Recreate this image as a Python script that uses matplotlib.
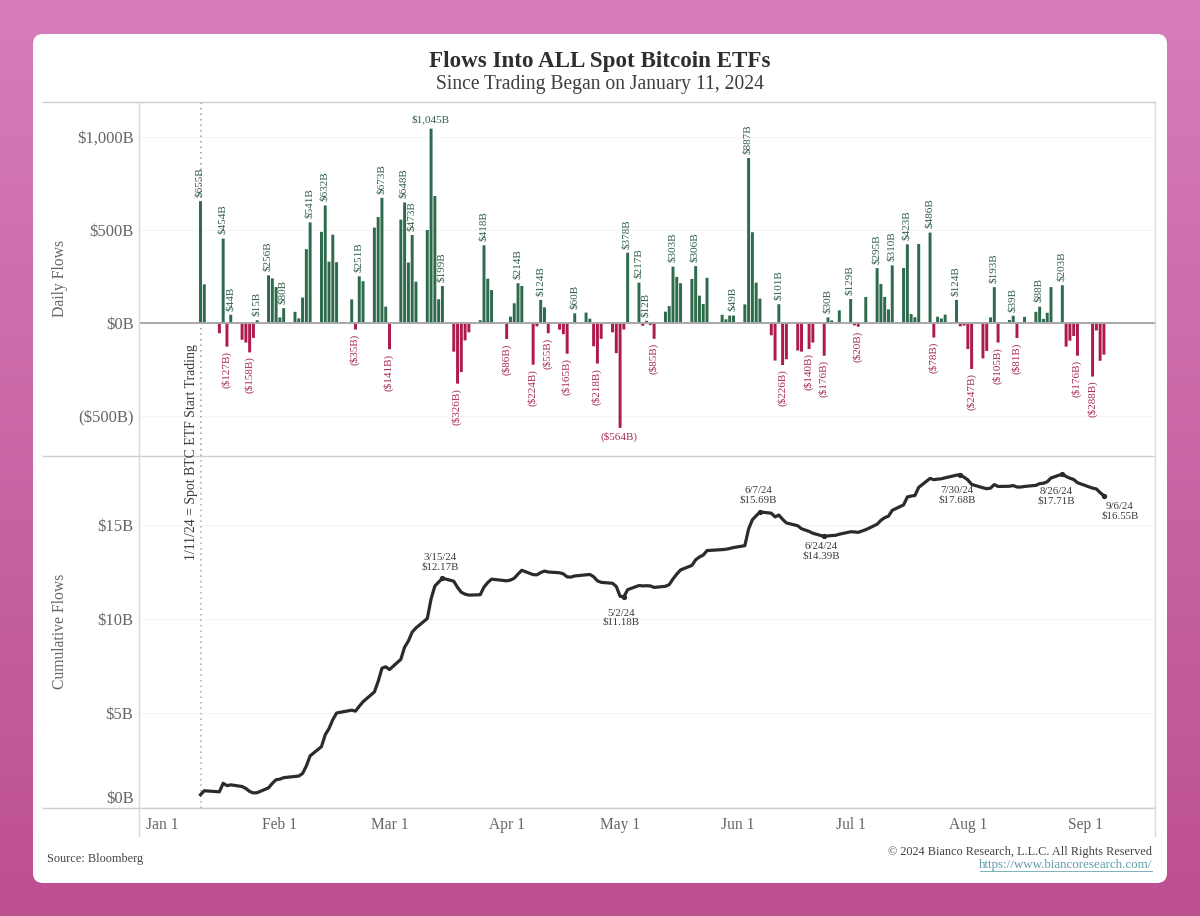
import numpy as np
import matplotlib
matplotlib.use("Agg")
import matplotlib.pyplot as plt
import matplotlib.dates as mdates
from matplotlib.patches import FancyBboxPatch
from datetime import datetime

plt.rcParams['font.family'] = ['Liberation Serif', 'DejaVu Serif']

trade_dates = (
    "01-11 01-12 01-16 01-17 01-18 01-19 01-22 01-23 01-24 01-25 01-26 01-29 01-30 01-31 "
    "02-01 02-02 02-05 02-06 02-07 02-08 02-09 02-12 02-13 02-14 02-15 02-16 02-20 02-21 02-22 02-23 "
    "02-26 02-27 02-28 02-29 03-01 03-04 03-05 03-06 03-07 03-08 03-11 03-12 03-13 03-14 03-15 "
    "03-18 03-19 03-20 03-21 03-22 03-25 03-26 03-27 03-28 "
    "04-01 04-02 04-03 04-04 04-05 04-08 04-09 04-10 04-11 04-12 04-15 04-16 04-17 04-18 04-19 "
    "04-22 04-23 04-24 04-25 04-26 04-29 04-30 05-01 05-02 05-03 05-06 05-07 05-08 05-09 05-10 "
    "05-13 05-14 05-15 05-16 05-17 05-20 05-21 05-22 05-23 05-24 05-28 05-29 05-30 05-31 "
    "06-03 06-04 06-05 06-06 06-07 06-10 06-11 06-12 06-13 06-14 06-17 06-18 06-20 06-21 "
    "06-24 06-25 06-26 06-27 06-28 07-01 07-02 07-03 07-05 07-08 07-09 07-10 07-11 07-12 "
    "07-15 07-16 07-17 07-18 07-19 07-22 07-23 07-24 07-25 07-26 07-29 07-30 07-31 "
    "08-01 08-02 08-05 08-06 08-07 08-08 08-09 08-12 08-13 08-14 08-15 08-16 "
    "08-19 08-20 08-21 08-22 08-23 08-26 08-27 08-28 08-29 08-30 09-03 09-04 09-05 09-06"
).split()

daily_flows = [
    655, 208, -55, 454, -127, 44, -90, -105, -158, -80, 15, 256, 240, 193,
    30, 80, 60, 25, 137, 397, 541, 490, 632, 330, 475, 327, 127, -35, 251, 225,
    513, 570, 673, 88, -141, 556, 648, 325, 473, 222, 500, 1045, 683, 128, 199,
    -154, -326, -264, -94, -50, 15, 418, 238, 177,
    -86, 34, 106, 214, 199, -224, -18, 124, 84, -55, -36, -60, -165, -3, 52,
    56, 23, -125, -218, -85, -50, -162, -564, -35, 378, 217, -15, 12, -11, -85,
    61, 91, 303, 248, 214, 237, 306, 147, 102, 243, 44, 20, 40, 40,
    100, 887, 488, 217, 131, -66, -202, 101, -226, -195, -148, -154, -140, -105,
    -176, 30, 14, 3, 68, 129, -13, -20, 140, 295, 210, 140, 73, 310,
    296, 423, 48, 31, 425, 486, -78, 34, 24, 45, 124, -18, -14,
    -140, -247, -190, -150, 30, 193, -105, 16, 39, -81, 2, 33,
    60, 88, 22, 55, 193, 203, -127, -95, -70, -176, -288, -40, -203, -170,
]

cum_flows = [
    0.655, 0.863, 0.808, 1.262, 1.135, 1.179, 1.09, 0.985, 0.827, 0.747, 0.762, 1.018, 1.258, 1.451,
    1.481, 1.561, 1.621, 1.646, 1.783, 2.18, 2.721, 3.211, 3.843, 4.173, 4.648, 5.0, 5.15, 5.10, 5.36, 5.6,
    6.12, 6.68, 7.38, 7.46, 7.31, 7.856, 8.504, 8.83, 9.303, 9.525, 10.025, 11.07, 11.753, 11.96, 12.17,
    12.01, 11.68, 11.42, 11.32, 11.27, 11.29, 11.70, 11.94, 12.12,
    12.03, 12.07, 12.17, 12.39, 12.59, 12.36, 12.35, 12.47, 12.55, 12.50, 12.46, 12.40, 12.24, 12.23, 12.29,
    12.35, 12.37, 12.25, 12.03, 11.95, 11.90, 11.73, 11.21, 11.18, 11.56, 11.78, 11.76, 11.77, 11.76, 11.68,
    11.74, 11.83, 12.13, 12.39, 12.61, 12.85, 13.15, 13.30, 13.40, 13.64, 13.69, 13.71, 13.75, 13.80,
    13.90, 14.79, 15.28, 15.49, 15.69, 15.63, 15.43, 15.53, 15.30, 15.11, 14.96, 14.80, 14.66, 14.56,
    14.39, 14.42, 14.44, 14.45, 14.51, 14.64, 14.63, 14.61, 14.75, 15.04, 15.25, 15.39, 15.47, 15.78,
    16.07, 16.49, 16.54, 16.57, 17.00, 17.48, 17.41, 17.44, 17.46, 17.51, 17.65, 17.68, 17.54,
    17.40, 17.16, 16.98, 16.93, 16.96, 17.15, 17.05, 17.06, 17.10, 17.02, 17.02, 17.05,
    17.11, 17.20, 17.22, 17.30, 17.50, 17.71, 17.58, 17.49, 17.42, 17.25, 16.96, 16.92, 16.72, 16.55,
]

bar_label_dates = (
    "01-11 01-17 01-19 01-18 01-24 01-26 01-29 02-02 02-09 02-13 02-21 02-22 02-28 03-01 03-05 03-07 "
    "03-12 03-15 03-19 03-26 04-01 04-04 04-08 04-10 04-12 04-17 04-19 04-25 05-01 05-03 05-06 05-08 05-10 "
    "05-15 05-21 05-31 06-04 06-12 06-13 06-20 06-24 06-25 07-01 07-03 07-08 07-12 07-16 07-22 07-23 07-29 "
    "08-02 08-08 08-09 08-13 08-14 08-20 08-26 08-30 09-03"
).split()
bar_label_texts = [
    "$655B", "$454B", "$44B", "($127B)", "($158B)", "$15B", "$256B", "$80B", "$541B", "$632B", "($35B)", "$251B",
    "$673B", "($141B)", "$648B", "$473B", "$1,045B", "$199B", "($326B)", "$418B", "($86B)", "$214B", "($224B)",
    "$124B", "($55B)", "($165B)", "$60B", "($218B)", "($564B)", "$378B", "$217B", "$12B", "($85B)", "$303B",
    "$306B", "$49B", "$887B", "$101B", "($226B)", "($140B)", "($176B)", "$30B", "$129B", "($20B)", "$295B",
    "$310B", "$423B", "$486B", "($78B)", "$124B", "($247B)", "$193B", "($105B)", "$39B", "($81B)", "$88B",
    "$203B", "($176B)", "($288B)",
]
flat_labels = ["$1,045B", "($564B)"]

line_notes = [
    ("03-15", "3/15/24\n$12.17B"), ("05-02", "5/2/24\n$11.18B"), ("06-07", "6/7/24\n$15.69B"),
    ("06-24", "6/24/24\n$14.39B"), ("07-30", "7/30/24\n$17.68B"), ("08-26", "8/26/24\n$17.71B"),
    ("09-06", "9/6/24\n$16.55B"),
]
# text-block centre relative to the marked point, in pixels (right, up)
note_offsets_px = [(-2, 16), (-3, -21), (-2, 17), (-3, -15), (-3, -21), (-6, -22), (16, -15)]

month_ticks = ["01-01", "02-01", "03-01", "04-01", "05-01", "06-01", "07-01", "08-01", "09-01"]
month_names = ["Jan 1", "Feb 1", "Mar 1", "Apr 1", "May 1", "Jun 1", "Jul 1", "Aug 1", "Sep 1"]
daily_ticks = [-500, 0, 500, 1000]
daily_tick_labels = ["($500B)", "$0B", "$500B", "$1,000B"]
cum_ticks = [0, 5, 10, 15]
cum_tick_labels = ["$0B", "$5B", "$10B", "$15B"]

GREEN, RED = "#2e6a4c", "#ae1a4a"
GREY, DARK = "#666666", "#3a3a3a"
W, H = 1200, 916


def d(s):
    return mdates.date2num(datetime.strptime("2024-" + s, "%Y-%m-%d"))


def rect(l, t, r, b):
    return [l / W, 1 - b / H, (r - l) / W, (b - t) / H]


x = np.array([d(s) for s in trade_dates])
flows = np.array(daily_flows)
cum = np.array(cum_flows)

fig = plt.figure(figsize=(W / 100, H / 100), dpi=100)

# page background and card
bg = fig.add_axes([0, 0, 1, 1], zorder=0)
bg.axis("off")
top_col = np.array([0.84, 0.49, 0.73])
bot_col = np.array([0.74, 0.31, 0.56])
t = np.linspace(0, 1, 256)[:, None, None]
bg.imshow(top_col[None, None, :] * (1 - t) + bot_col[None, None, :] * t,
          extent=[0, W, H, 0], aspect="auto", zorder=0)
bg.set_xlim(0, W)
bg.set_ylim(H, 0)
bg.add_patch(FancyBboxPatch((33, 34), 1134, 849, boxstyle="round,pad=0,rounding_size=10",
                            fc="white", ec="none", zorder=1))

FRAME = "#cdcdcd"
L, R, T, MID, B = 139, 1155, 102, 456, 808
PXDAY = 3.78
x0 = d("01-11")
xlim = (x0 - (200.5 - L) / PXDAY, x0 + (R - 200.5) / PXDAY)

ax1 = fig.add_axes(rect(L, T, R, MID), zorder=2)
ax2 = fig.add_axes(rect(L, MID, R, B), zorder=2)
for ax in (ax1, ax2):
    ax.patch.set_alpha(0)
    ax.set_xlim(xlim)
    for s in ax.spines.values():
        s.set_visible(False)
    ax.grid(axis="y", color="#f6f5f2", lw=0.8)
    ax.set_axisbelow(True)
    ax.tick_params(length=0, colors=GREY)

# daily flows
ax1.set_ylim(-(MID - 323) / 0.186, (323 - T) / 0.186)
bars = ax1.bar(x, flows, width=0.78, color=np.where(flows >= 0, GREEN, RED), zorder=3)
for b in bars:
    b.set_snap(False)
ax1.axhline(0, color="#a8a8a8", lw=1.4, zorder=4)
ax1.set_yticks(daily_ticks, daily_tick_labels, fontsize=12, color=GREY)
ax1.set_xticks([])
ax1.tick_params(axis="y", pad=4)

for ds, txt in zip(bar_label_dates, bar_label_texts):
    i = trade_dates.index(ds)
    v = daily_flows[i]
    up = v >= 0
    flat = txt in flat_labels
    ax1.annotate(txt, (x[i], v), xytext=(-0.5, 3 if up else -3), textcoords="offset points",
                 rotation=0 if flat else 90, ha="center", va="bottom" if up else "top",
                 fontsize=8, color="#2f5f48" if up else "#a82a55", zorder=5)

# cumulative
ax2.set_ylim(-(B - 807) / 18.8, (807 - MID) / 18.8)
ax2.plot(x, cum, color="#2b2b2b", lw=2.3, solid_joinstyle="round", zorder=3)
ax2.set_yticks(cum_ticks, cum_tick_labels, fontsize=12, color=GREY)
ax2.get_yticklabels()[0].set_va("bottom")
ax2.set_xticks([d(s) for s in month_ticks], month_names, fontsize=11.2, color=GREY)
for lab in ax2.get_xticklabels():
    lab.set_va("baseline")
ax2.tick_params(axis="x", pad=15)
ax2.tick_params(axis="y", pad=4)

for (ds, txt), (ox, oy) in zip(line_notes, note_offsets_px):
    i = trade_dates.index(ds)
    ax2.plot([x[i]], [cum[i]], "o", ms=2.8, color="#2b2b2b", zorder=4)
    ax2.annotate(txt, (x[i], cum[i]), xytext=(ox * 0.72, oy * 0.72),
                 textcoords="offset points", ha="center", va="center",
                 fontsize=7.8, color=DARK, linespacing=1.05, zorder=5)

# start marker
for ax in (ax1, ax2):
    ax.axvline(x0, color="#c08a8a" if ax is ax1 else "#a9a9a9", lw=1.1, ls=(0, (1, 2.6)), zorder=2)

top = fig.add_axes([0, 0, 1, 1], zorder=3)
top.axis("off")
top.patch.set_alpha(0)
top.set_xlim(0, W)
top.set_ylim(H, 0)
top.plot([43, R], [T, T], color=FRAME, lw=1)
top.plot([43, R], [MID, MID], color=FRAME, lw=1)
top.plot([43, R], [B, B], color=FRAME, lw=1)
top.plot([L, L], [T, 836], color="#d9d9d9", lw=1)
top.plot([R, R], [T, 836], color="#d3dde3", lw=1)

top.text(600, 62, "Flows Into ALL Spot Bitcoin ETFs", ha="center", va="center",
         fontsize=16.6, fontweight="bold", color="#2e2e2e")
top.text(600, 85, "Since Trading Began on January 11, 2024", ha="center", va="center",
         fontsize=14.1, color="#3f3f3f")
top.text(60, 278, "Daily Flows", rotation=90, ha="center", va="center", fontsize=11.3, color=GREY)
top.text(60, 631, "Cumulative Flows", rotation=90, ha="center", va="center", fontsize=11.3, color=GREY)
top.text(192, 452, "1/11/24 = Spot BTC ETF Start Trading", rotation=90, ha="center", va="center",
         fontsize=9.9, color=DARK)
top.text(47, 859, "Source: Bloomberg", ha="left", va="center", fontsize=8.85, color="#444444")
top.text(1152, 852, "© 2024 Bianco Research, L.L.C. All Rights Reserved", ha="right", va="center",
         fontsize=8.8, color="#444444")
top.text(1152, 865, "https://www.biancoresearch.com/", ha="right", va="center",
         fontsize=9.35, color="#5f9aa6")
top.plot([980, 1152], [871, 871], color="#7fb0ba", lw=0.7)

fig.savefig("out.png", dpi=100)
